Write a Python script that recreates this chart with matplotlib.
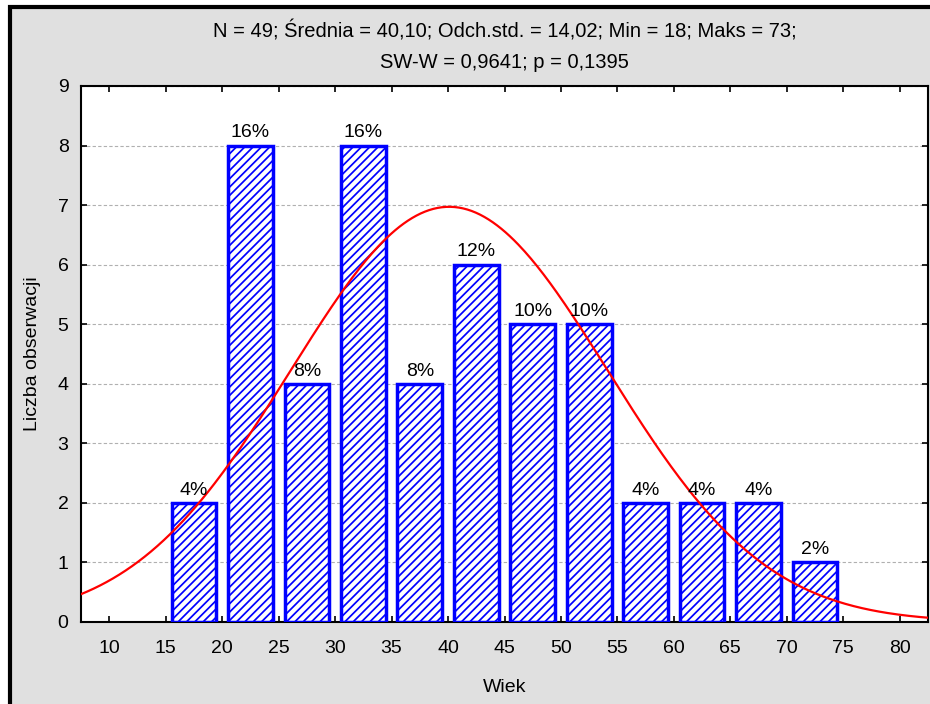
import numpy as np
import matplotlib
matplotlib.use("Agg")
import matplotlib.pyplot as plt
from matplotlib.patches import Rectangle

plt.rcParams['font.family'] = ['Liberation Sans', 'DejaVu Sans']
plt.rcParams['hatch.color'] = '#4a4aff'
plt.rcParams['hatch.linewidth'] = 1.25

bin_starts = [15, 20, 25, 30, 35, 40, 45, 50, 55, 60, 65, 70]
counts = [2, 8, 4, 8, 4, 6, 5, 5, 2, 2, 2, 1]
pct_labels = ["4%", "16%", "8%", "16%", "8%", "12%", "10%", "10%", "4%", "4%", "4%", "2%"]
x_ticks = [10, 15, 20, 25, 30, 35, 40, 45, 50, 55, 60, 65, 70, 75, 80]
y_ticks = [0, 1, 2, 3, 4, 5, 6, 7, 8, 9]
n_obs = 49
mean = 40.10
sd = 14.02
bin_width = 5

title = "N = 49; Średnia = 40,10; Odch.std. = 14,02; Min = 18; Maks = 73;\nSW-W = 0,9641; p = 0,1395"

fig = plt.figure(figsize=(9.3, 7.04), dpi=100)
fig.patch.set_facecolor('white')
W, H = 930, 704
bg = Rectangle((10 / W, -0.01), 1.0, (H - 7) / H + 0.01, transform=fig.transFigure,
               facecolor='#e0e0e0', edgecolor='black', linewidth=3, zorder=-10)
fig.patches.append(bg)

ax = fig.add_axes([81 / W, 1 - 622 / H, (928 - 81) / W, (622 - 86) / H])
ax.set_zorder(1)
ax.set_facecolor('white')

centers = [b + bin_width / 2 for b in bin_starts]
bars = ax.bar(centers, counts, width=3.95, facecolor='white', edgecolor='#0000ff',
              linewidth=2.5, hatch='////', zorder=3)
for c, v, lab in zip(centers, counts, pct_labels):
    ax.text(c, v + 0.07, lab, ha='center', va='bottom', fontsize=14, zorder=5)

xs = np.linspace(7.5, 82.5, 400)
ys = n_obs * bin_width / (sd * np.sqrt(2 * np.pi)) * np.exp(-0.5 * ((xs - mean) / sd) ** 2)
ax.plot(xs, ys, color='red', linewidth=1.6, zorder=4)

ax.set_xlim(7.5, 82.5)
ax.set_ylim(0, 9)
ax.set_xticks(x_ticks)
ax.set_yticks(y_ticks)
ax.yaxis.grid(True, linestyle=(0, (3, 2)), color='#b0b0b0', linewidth=0.8, zorder=1)
ax.tick_params(axis='both', direction='in', length=4, width=1.2, labelsize=14,
               top=True, right=True)
ax.tick_params(axis='x', pad=13)
ax.tick_params(axis='y', pad=9)
for s in ax.spines.values():
    s.set_linewidth(1.5)
ax.set_xlabel("Wiek", fontsize=14, labelpad=16)
ax.set_ylabel("Liczba obserwacji", fontsize=14, labelpad=12)
ax.set_title(title, fontsize=14.5, pad=13, linespacing=1.75)

fig.savefig("out.png", dpi=100)
